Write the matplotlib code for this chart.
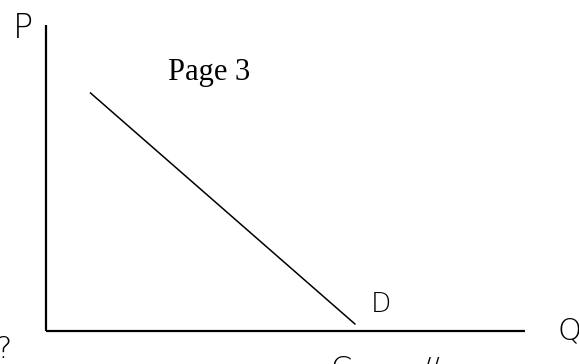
import matplotlib
matplotlib.use("Agg")
import matplotlib.pyplot as plt

# demand curve endpoints (quantity, price), axes run 0..10
demand_q = [0.93, 6.45]
demand_p = [7.78, 0.23]
q_axis = [0, 10]
p_axis = [0, 10]

fig = plt.figure(figsize=(5.79, 3.64), dpi=100)
ax = fig.add_axes([0, 0, 1, 1])
ax.set_xlim(-0.96, 11.13)
ax.set_ylim(-1.08, 10.82)
ax.axis("off")

# axes drawn by hand
ax.plot([0, 0], p_axis, color="black", lw=1.6, solid_capstyle="butt")
ax.plot(q_axis, [0, 0], color="black", lw=1.6, solid_capstyle="butt")

# demand line
ax.plot(demand_q, demand_p, color="black", lw=1.1)

def px(x, y):
    return x / 579, 1 - y / 364

fig.text(*px(168, 80), "Page 3", family="Liberation Serif", fontsize=22,
         ha="left", va="baseline")

hand = dict(family="DejaVu Sans", color="black", ha="center", va="center",
            fontweight="light")
fig.text(*px(23, 28), "P", fontsize=24, **hand)
fig.text(*px(381, 305), "D", fontsize=19, **hand)
fig.text(*px(570, 331), "Q", fontsize=22, **hand)
fig.text(*px(4, 350), "?", fontsize=22, **hand)
fig.text(*px(341, 370), "C", fontsize=22, **hand)
fig.text(*px(431, 370), "//", fontsize=20, **hand)

fig.savefig("out.png", dpi=100)
